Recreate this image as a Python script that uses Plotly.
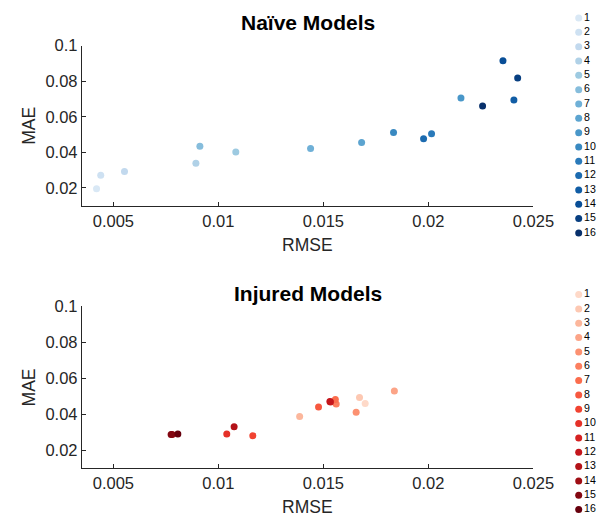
import plotly.graph_objects as go
from plotly.colors import sample_colorscale

# ---------------- data ----------------
model_ids = list(range(1, 17))

naive_rmse = [0.0042, 0.0044, 0.00553, 0.00893, 0.01083, 0.00912, 0.01439, 0.01682,
              0.02155, 0.01834, 0.02015, 0.01977, 0.02407, 0.02355, 0.02425, 0.02258]
naive_mae = [0.0195, 0.0272, 0.0293, 0.0339, 0.0402, 0.0435, 0.0422, 0.0456,
             0.0706, 0.0511, 0.0505, 0.0476, 0.0694, 0.0915, 0.0818, 0.0661]

injured_rmse = [0.01699, 0.01672, 0.01387, 0.01838, 0.01656, 0.01561, 0.01557, 0.01477,
                0.01164, 0.01040, 0.01534, 0.01531, 0.01075, 0.00780, 0.00775, 0.00807]
injured_mae = [0.0461, 0.0494, 0.0389, 0.0530, 0.0412, 0.0457, 0.0483, 0.0441,
               0.0282, 0.0291, 0.0469, 0.0472, 0.0332, 0.0289, 0.0288, 0.0291]

x_ticks = [0.005, 0.01, 0.015, 0.02, 0.025]
x_tick_labels = ["0.005", "0.01", "0.015", "0.02", "0.025"]
y_ticks = [0.02, 0.04, 0.06, 0.08, 0.1]
y_tick_labels = ["0.02", "0.04", "0.06", "0.08", "0.1"]

# ---------------- layout helpers (target picture pixels -> paper) ----------------
SX, SY, OY = 0.965, 0.9875, 6.25
FW, FH = 630, 517


def PX(X):
    return min(1.0, max(0.0, (X / SX) / FW))


def PY(Y):
    return min(1.0, max(0.0, 1 - ((Y - OY) / SY) / FH))


FONT = "Liberation Sans, Arial, sans-serif"
TXT = "#262626"
pos = [0.15 + 0.85 * i / 15 for i in range(16)]
blues = sample_colorscale("Blues", pos)
reds = sample_colorscale("Reds", pos)

fig = go.Figure()

for i in range(16):
    fig.add_trace(go.Scatter(x=[naive_rmse[i]], y=[naive_mae[i]], mode="markers",
                             marker=dict(size=7, color=blues[i]), name=str(model_ids[i]),
                             showlegend=False, xaxis="x", yaxis="y"))
for i in range(16):
    fig.add_trace(go.Scatter(x=[injured_rmse[i]], y=[injured_mae[i]], mode="markers",
                             marker=dict(size=7, color=reds[i]), name=str(model_ids[i]),
                             showlegend=False, xaxis="x2", yaxis="y2"))

LEG_X = 577.7
fig.add_trace(go.Scatter(x=[LEG_X] * 16, y=model_ids, mode="markers+text",
                         text=[str(m) for m in model_ids], textposition="middle right",
                         textfont=dict(size=10.6, color="#000000", family=FONT),
                         marker=dict(size=7, color=blues), showlegend=False,
                         hoverinfo="skip", xaxis="x3", yaxis="y3"))
fig.add_trace(go.Scatter(x=[LEG_X] * 16, y=model_ids, mode="markers+text",
                         text=[str(m) for m in model_ids], textposition="middle right",
                         textfont=dict(size=10.6, color="#000000", family=FONT),
                         marker=dict(size=7, color=reds), showlegend=False,
                         hoverinfo="skip", xaxis="x3", yaxis="y4"))

xd = [PX(81.7), PX(532.5)]
top_d = [PY(204), PY(43)]
bot_d = [PY(468), PY(305)]


def xax(anchor):
    return dict(domain=xd, range=[0.0035, 0.025], tickvals=x_ticks, ticktext=x_tick_labels,
                ticks="inside", ticklen=4, tickcolor=TXT, showline=True, linecolor=TXT,
                linewidth=1, showgrid=False, zeroline=False, anchor=anchor,
                tickfont=dict(size=16.5, color=TXT, family=FONT))


def yax(dom, anchor):
    return dict(domain=dom, range=[0.01, 0.1], tickvals=y_ticks, ticktext=y_tick_labels,
                ticks="inside", ticklen=4, tickcolor=TXT, showline=True, linecolor=TXT,
                linewidth=1, showgrid=False, zeroline=False, anchor=anchor,
                tickfont=dict(size=16.5, color=TXT, family=FONT))


# legend columns: image-pixel coordinate axes
STEP = 14.4
img_top, img_bot = OY, OY + SY * FH


def leg_range(first_y):
    return [1 + (img_bot - first_y) / STEP, 1 + (img_top - first_y) / STEP]


fig.update_layout(
    width=FW, height=FH, margin=dict(l=0, r=0, t=0, b=0), autosize=False,
    paper_bgcolor="white", plot_bgcolor="rgba(0,0,0,0)",
    font=dict(family=FONT, color=TXT),
    xaxis=xax("y"), yaxis=yax(top_d, "x"),
    xaxis2=xax("y2"), yaxis2=yax(bot_d, "x2"),
    xaxis3=dict(domain=[0.0, 1.0], range=[0, FW * SX], visible=False, fixedrange=True),
    yaxis3=dict(domain=[0.0, 1.0], range=leg_range(15.3), visible=False,
                anchor="x3", fixedrange=True),
    yaxis4=dict(domain=[0.0, 1.0], range=leg_range(293.3), visible=False,
                anchor="x3", fixedrange=True),
    showlegend=False,
)

cx = (81.7 + 532.5) / 2
ann = [
    dict(text="<b>Naïve Models</b>", x=PX(cx), y=PY(20), font=dict(size=21, color="#000000")),
    dict(text="<b>Injured Models</b>", x=PX(cx), y=PY(292), font=dict(size=21, color="#000000")),
    dict(text="RMSE", x=PX(cx), y=PY(243), font=dict(size=17.5, color=TXT)),
    dict(text="RMSE", x=PX(cx), y=PY(507), font=dict(size=17.5, color=TXT)),
    dict(text="MAE", x=PX(29), y=PY(123.5), textangle=-90, font=dict(size=17.5, color=TXT)),
    dict(text="MAE", x=PX(29), y=PY(386.5), textangle=-90, font=dict(size=17.5, color=TXT)),
]
for a in ann:
    a.update(xref="paper", yref="paper", showarrow=False, xanchor="center", yanchor="middle")
    a["font"]["family"] = FONT
fig.update_layout(annotations=ann)

fig.write_html("out.html", config={"responsive": False, "displayModeBar": False},
               post_script="document.body.style.margin='0px';document.body.style.overflow='hidden';")
